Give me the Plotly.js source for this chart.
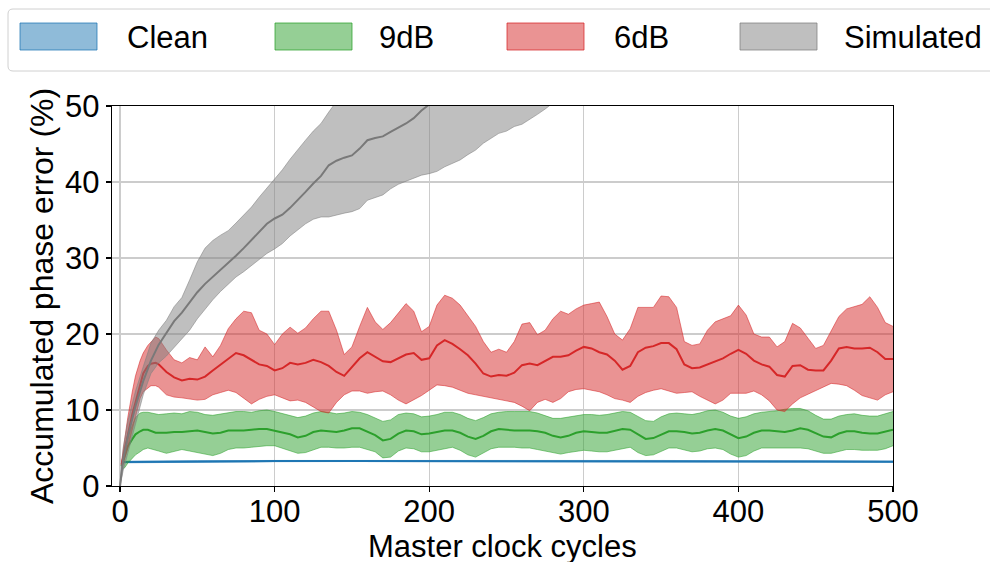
<!DOCTYPE html>
<html>
<head>
<meta charset="utf-8">
<script src="https://cdn.plot.ly/plotly-3.0.1.min.js"></script>
<style>
  html, body { margin: 0; padding: 0; background: #fff; }
  #chart { width: 990px; height: 562px; }
</style>
</head>
<body>
<div id="chart"></div>
<script>
// ---- data: accumulated phase error (%) vs. master clock cycles ----
const seriesNames = ["Clean", "9dB", "6dB", "Simulated"];

// clean reference
const cleanX     = [2, 25, 50, 100, 150, 200, 250, 300, 350, 400, 450, 500];
const cleanMean  = [3.15, 3.2, 3.25, 3.28, 3.3, 3.3, 3.3, 3.3, 3.28, 3.25, 3.22, 3.2];
const cleanUpper = [3.25, 3.3, 3.33, 3.36, 3.38, 3.38, 3.38, 3.38, 3.36, 3.33, 3.3, 3.28];
const cleanLower = [3.05, 3.1, 3.17, 3.2, 3.22, 3.22, 3.22, 3.22, 3.2, 3.17, 3.14, 3.12];

// shared cycle grid for the noisy runs
const noiseX = [1, 3, 5, 8, 10, 13, 15, 18, 20, 23, 25,
  30, 35, 40, 45, 50, 55, 60, 65, 70, 75, 80, 85, 90, 95, 100, 105, 110, 115, 120, 125,
  130, 135, 140, 145, 150, 155, 160, 165, 170, 175, 180, 185, 190, 195, 200, 205, 210, 215, 220, 225,
  230, 235, 240, 245, 250, 255, 260, 265, 270, 275, 280, 285, 290, 295, 300, 305, 310, 315, 320, 325,
  330, 335, 340, 345, 350, 355, 360, 365, 370, 375, 380, 385, 390, 395, 400, 405, 410, 415, 420, 425,
  430, 435, 440, 445, 450, 455, 460, 465, 470, 475, 480, 485, 490, 495, 500];

// 9 dB
const db9Mean = [2.6, 4.0, 5.2, 6.2, 6.8, 7.2, 7.4, 7.4, 7.2, 7.0, 7.0,
  7.0, 7.1, 7.1, 7.2, 7.3, 7.1, 6.9, 7.0, 7.3, 7.3, 7.3, 7.4, 7.5, 7.5, 7.3, 7.1, 6.8, 6.4, 6.6, 7.1,
  7.3, 7.2, 7.1, 7.3, 7.6, 7.6, 7.2, 6.7, 6.0, 6.2, 6.9, 7.3, 7.2, 6.8, 6.9, 7.1, 7.3, 7.3, 7.0, 6.5,
  6.2, 6.6, 7.2, 7.5, 7.4, 7.3, 7.3, 7.3, 7.2, 7.0, 6.6, 6.4, 6.6, 7.0, 7.2, 7.1, 7.0, 7.0, 7.2, 7.5,
  7.4, 6.8, 6.2, 6.3, 6.8, 7.2, 7.2, 7.1, 6.9, 7.0, 7.3, 7.5, 7.3, 6.8, 6.3, 6.5, 7.0, 7.3, 7.3, 7.2,
  7.1, 7.3, 7.6, 7.4, 7.0, 6.5, 6.4, 6.9, 7.2, 7.2, 7.0, 6.9, 6.9, 7.2, 7.4];
const db9Upper = [2.9, 5.0, 6.5, 8.0, 9.0, 9.6, 9.7, 9.7, 9.6, 9.5, 9.4,
  9.5, 9.6, 9.5, 9.8, 9.7, 9.4, 9.3, 9.5, 9.7, 9.8, 9.8, 9.7, 9.9, 10.0, 9.8, 9.5, 9.2, 9.0, 9.2, 9.6,
  9.8, 9.7, 9.5, 9.6, 9.8, 9.7, 9.4, 8.9, 8.5, 8.7, 9.4, 9.6, 9.5, 9.1, 9.2, 9.4, 9.7, 9.7, 9.4, 8.9,
  8.6, 9.0, 9.5, 9.7, 9.8, 9.8, 9.8, 9.8, 9.6, 9.3, 8.9, 8.9, 9.1, 9.3, 9.4, 9.4, 9.3, 9.4, 9.6, 9.8,
  9.7, 9.2, 8.6, 8.5, 9.1, 9.5, 9.6, 9.5, 9.4, 9.6, 9.9, 10.0, 9.7, 9.2, 8.9, 9.1, 9.5, 9.7, 9.8, 9.9,
  10.1, 10.2, 10.2, 9.9, 9.3, 8.8, 8.8, 9.2, 9.4, 9.5, 9.3, 9.2, 9.2, 9.5, 9.8];
const db9Lower = [2.2, 2.4, 3.0, 3.7, 4.1, 4.5, 4.8, 5.0, 4.9, 4.8, 4.6,
  4.3, 4.5, 4.8, 4.6, 4.4, 4.2, 4.0, 4.3, 4.8, 5.0, 5.0, 5.1, 5.2, 5.3, 5.3, 5.0, 4.6, 4.3, 4.4, 4.8,
  5.1, 5.1, 5.0, 5.0, 5.1, 5.1, 4.8, 4.5, 3.7, 3.8, 4.6, 5.0, 4.9, 4.5, 4.5, 4.7, 5.0, 5.1, 4.7, 4.1,
  3.8, 4.3, 4.9, 5.1, 5.1, 5.1, 5.0, 5.0, 4.8, 4.6, 4.4, 4.2, 4.4, 4.6, 4.7, 4.6, 4.5, 4.5, 4.7, 5.0,
  5.1, 4.4, 4.0, 4.1, 4.6, 5.0, 5.0, 4.8, 4.5, 4.6, 4.9, 5.0, 4.8, 4.2, 3.8, 4.0, 4.6, 5.0, 5.0, 5.0,
  5.0, 5.0, 5.0, 4.9, 4.6, 4.3, 4.3, 4.6, 4.8, 4.8, 4.7, 4.7, 4.7, 4.9, 5.3];

// 6 dB
const db6Mean = [2.8, 4.8, 6.5, 9.5, 11.0, 13.5, 14.8, 15.8, 16.1, 16.2, 16.0,
  15.0, 14.3, 13.9, 14.1, 14.0, 14.4, 15.2, 16.0, 16.8, 17.5, 17.2, 16.6, 16.0, 15.8, 15.2, 15.5, 16.2, 16.0, 16.2, 16.6,
  16.3, 15.8, 15.0, 14.5, 15.6, 16.8, 17.6, 17.0, 16.4, 16.3, 16.8, 17.3, 17.5, 16.6, 16.8, 18.5, 19.2, 18.7, 18.0, 17.2,
  16.1, 14.8, 14.4, 14.6, 14.5, 14.9, 15.9, 16.1, 15.9, 16.4, 17.0, 17.0, 17.2, 17.8, 18.3, 18.1, 17.6, 17.3, 16.5, 15.3,
  15.8, 17.6, 18.2, 18.4, 18.8, 18.8, 18.0, 16.0, 15.5, 15.6, 16.0, 16.3, 16.8, 17.4, 17.9, 17.4, 16.5, 16.0, 15.7, 14.6,
  14.4, 15.8, 15.9, 15.3, 15.2, 15.2, 16.5, 18.1, 18.3, 18.1, 18.1, 18.2, 17.6, 16.7, 16.7];
const db6Upper = [3.2, 6.5, 9.0, 12.5, 14.5, 16.5, 17.5, 18.5, 19.0, 19.6, 19.4,
  17.9, 16.6, 16.2, 16.9, 16.6, 18.3, 17.0, 18.5, 20.7, 22.0, 23.0, 22.8, 20.5, 20.0, 18.6, 20.0, 20.9, 20.1, 20.8, 22.0,
  23.0, 23.0, 20.5, 17.3, 18.3, 21.0, 23.5, 21.6, 20.6, 21.5, 22.8, 24.0, 23.0, 20.3, 21.0, 23.8, 25.1, 24.7, 23.8, 22.4,
  21.0, 19.0, 17.6, 18.0, 17.6, 19.0, 21.3, 21.5, 19.9, 20.5, 22.0, 23.0, 22.6, 23.3, 23.8, 24.0, 24.2, 22.3, 20.0, 19.2,
  20.7, 23.5, 23.5, 23.5, 25.0, 24.9, 23.5, 19.0, 18.5, 18.7, 20.5, 21.6, 22.0, 22.4, 23.8, 22.5, 20.0, 19.6, 19.6, 18.3,
  19.0, 21.4, 20.8, 19.5, 18.1, 18.5, 20.5, 22.3, 23.3, 23.6, 23.9, 24.9, 23.5, 21.5, 21.0];
const db6Lower = [2.3, 3.5, 5.0, 7.5, 9.2, 11.5, 12.4, 12.9, 13.2, 13.2, 13.0,
  12.0, 11.7, 11.6, 11.4, 11.3, 11.4, 12.0, 12.3, 12.6, 12.3, 11.6, 10.8, 11.4, 11.8, 12.0, 11.6, 11.2, 11.3, 11.0, 10.4,
  9.8, 9.6, 11.0, 12.0, 12.5, 12.5, 12.2, 12.4, 12.5, 12.0, 11.3, 10.8, 11.3, 11.9, 12.6, 13.3, 13.2, 13.0, 12.6, 12.2,
  12.0, 11.8, 11.6, 11.4, 11.3, 11.0, 10.5, 9.9, 11.0, 11.4, 11.0, 11.5, 12.4, 12.7, 12.8, 12.6, 12.4, 12.0, 11.5, 11.3,
  11.0, 11.8, 12.3, 12.6, 12.8, 12.5, 12.2, 12.3, 12.4, 11.8, 11.3, 10.8, 11.3, 12.2, 12.2, 12.2, 12.5, 12.0, 11.2, 10.0,
  9.8, 10.8, 11.6, 12.1, 12.5, 13.1, 13.5, 13.4, 13.2, 12.6, 11.9, 11.6, 11.3, 12.0, 12.4];

// simulated channel
const simX = [0, 2, 5, 10, 15, 20, 25, 30, 35, 40, 45, 50, 55, 60, 65, 70, 75, 80, 85, 90, 95, 100,
  105, 110, 115, 120, 125, 130, 135, 140, 145, 150, 155, 160, 165, 170, 175, 180, 185, 190, 195, 200,
  205, 210, 215, 220, 225, 230, 235, 240, 245, 250, 255, 260, 265, 270, 275, 280, 285, 290, 295, 300];
const simMean = [0, 3.5, 6.5, 10.5, 13.8, 16.5, 18.6, 20.2, 21.7, 22.8, 24.2, 25.5, 26.6, 27.5, 28.4, 29.3, 30.3, 31.3, 32.4, 33.5, 34.5, 35.2,
  35.7, 36.6, 37.6, 38.7, 39.8, 40.8, 42.2, 42.8, 43.2, 43.5, 44.4, 45.5, 45.8, 46.0, 46.6, 47.1, 47.7, 48.4, 49.4, 50.2,
  50.9, 51.6, 52.2, 52.9, 53.5, 54.1, 54.8, 55.4, 56.0, 56.6, 57.2, 57.9, 58.4, 59.0, 59.6, 60.2, 60.8, 61.4, 62.0, 62.6];
const simUpper = [0, 5.0, 8.5, 12.5, 15.7, 18.8, 20.5, 21.8, 23.6, 24.8, 27.1, 29.5, 31.3, 32.3, 33.0, 33.6, 34.6, 35.6, 36.7, 38.0, 39.2, 40.3,
  41.6, 43.0, 44.3, 45.5, 46.7, 47.7, 49.2, 50.6, 51.5, 52.6, 53.7, 54.8, 55.8, 56.8, 57.8, 58.7, 59.6, 60.5, 61.5, 62.4,
  63.3, 64.2, 65.1, 66.0, 66.9, 67.8, 68.7, 69.6, 70.5, 71.4, 72.3, 73.2, 74.1, 75.0, 75.9, 76.8, 77.7, 78.6, 79.5, 80.4];
const simLower = [0, 2.0, 4.3, 8.2, 12.0, 14.8, 16.2, 17.1, 18.2, 19.3, 20.5, 22.0, 23.3, 24.5, 25.6, 26.6, 27.5, 28.2, 29.0, 29.8, 30.6, 31.2,
  31.9, 32.9, 33.7, 34.5, 35.1, 35.4, 35.4, 35.7, 35.9, 36.1, 36.5, 37.6, 37.9, 38.3, 39.1, 39.7, 40.1, 40.5, 40.9, 41.1,
  41.4, 42.0, 42.4, 42.9, 43.6, 44.2, 45.1, 45.7, 46.4, 46.7, 47.3, 47.6, 48.2, 48.9, 49.6, 50.4, 51.0, 51.6, 52.1, 52.6];

const xTicks = [0, 100, 200, 300, 400, 500];
const yTicks = [0, 10, 20, 30, 40, 50];

// ---- styling ----
const palette = {
  "Clean":     [31, 119, 180],
  "9dB":       [44, 160, 44],
  "6dB":       [214, 39, 40],
  "Simulated": [127, 127, 127]
};
const rgba = (c, a) => `rgba(${c[0]},${c[1]},${c[2]},${a})`;
const FONT = '"Liberation Sans", Arial, sans-serif';

// mean line first, then the shaded spread band on top (band is half-transparent)
function group(name, x, mean, lo, hi, lineColor) {
  const c = palette[name];
  return [
    { x: x, y: mean, mode: 'lines', name: name, showlegend: false, hoverinfo: 'skip',
      line: { color: lineColor || rgba(c, 1), width: 2 } },
    { x: x, y: lo, mode: 'lines', showlegend: false, hoverinfo: 'skip',
      line: { color: rgba(c, 0.55), width: 1 } },
    { x: x, y: hi, mode: 'lines', fill: 'tonexty', fillcolor: rgba(c, 0.5),
      showlegend: false, hoverinfo: 'skip',
      line: { color: rgba(c, 0.55), width: 1 } }
  ];
}

const traces = [].concat(
  group("Clean", cleanX, cleanMean, cleanLower, cleanUpper),
  group("9dB", noiseX, db9Mean, db9Lower, db9Upper),
  group("6dB", noiseX, db6Mean, db6Lower, db6Upper),
  group("Simulated", simX, simMean, simLower, simUpper, 'rgb(115,115,115)')
);

// ---- legend strip above the plot, built in pixel terms ----
const M = { l: 112, r: 97, t: 106, b: 76 };
const W = 990, H = 562;
const PW = W - M.l - M.r, PH = H - M.t - M.b;
const fx = px => (px - M.l) / PW;
const fy = py => (H - M.b - py) / PH;

function roundRect(x0, y0, x1, y1, r) {
  const rx = r / PW, ry = r / PH;
  const X0 = fx(x0), X1 = fx(x1), Y0 = fy(y0), Y1 = fy(y1); // Y0 top, Y1 bottom
  return `M${X0 + rx},${Y0} L${X1 - rx},${Y0} Q${X1},${Y0} ${X1},${Y0 - ry} ` +
         `L${X1},${Y1 + ry} Q${X1},${Y1} ${X1 - rx},${Y1} L${X0 + rx},${Y1} ` +
         `Q${X0},${Y1} ${X0},${Y1 + ry} L${X0},${Y0 - ry} Q${X0},${Y0} ${X0 + rx},${Y0} Z`;
}

const legendSwatchX = [20, 275, 507, 740];
const legendTextX = [125, 377, 612, 842];
const shapes = [{
  type: 'path', xref: 'paper', yref: 'paper', layer: 'above',
  path: roundRect(8, 9, 1005, 71, 5),
  fillcolor: 'rgba(255,255,255,0.8)', line: { color: '#d0d0d0', width: 1 }
}];
const annotations = [];
seriesNames.forEach((n, i) => {
  const c = palette[n];
  shapes.push({
    type: 'rect', xref: 'paper', yref: 'paper', layer: 'above',
    x0: fx(legendSwatchX[i]), x1: fx(legendSwatchX[i] + 77),
    y0: fy(50), y1: fy(23),
    fillcolor: rgba(c, 0.5), line: { color: rgba(c, 0.75), width: 1 }
  });
  annotations.push({
    xref: 'paper', yref: 'paper', x: fx(legendTextX[i]), y: fy(37),
    xanchor: 'left', yanchor: 'middle', showarrow: false, text: n,
    font: { family: FONT, size: 31, color: '#000' }
  });
});

// axis titles placed as text in pixel terms
annotations.push({
  xref: 'paper', yref: 'paper', x: fx(502), y: fy(546),
  xanchor: 'center', yanchor: 'middle', showarrow: false,
  text: 'Master clock cycles', font: { family: FONT, size: 31, color: '#000' }
});
annotations.push({
  xref: 'paper', yref: 'paper', x: fx(42), y: fy(296),
  xanchor: 'center', yanchor: 'middle', showarrow: false, textangle: -90,
  text: 'Accumulated phase error (%)', font: { family: FONT, size: 32, color: '#000' }
});

const axisCommon = {
  showline: true, mirror: true, linecolor: '#000', linewidth: 1.2,
  ticks: 'outside', ticklen: 5, tickwidth: 1.2, tickcolor: '#000',
  showgrid: true, gridcolor: '#cccccc', gridwidth: 1.3, zeroline: false,
  tickfont: { family: FONT, size: 31, color: '#000' }
};

const layout = {
  width: W, height: H,
  margin: { l: M.l, r: M.r, t: M.t, b: M.b, pad: 0 },
  paper_bgcolor: '#fff', plot_bgcolor: '#fff',
  showlegend: false,
  font: { family: FONT, color: '#000' },
  xaxis: Object.assign({}, axisCommon, {
    range: [-5.2, 500], tickvals: xTicks, ticktext: xTicks.map(String),
    ticklabelstandoff: -7, automargin: false
  }),
  yaxis: Object.assign({}, axisCommon, {
    range: [0, 50], tickvals: yTicks, ticktext: yTicks.map(String),
    automargin: false
  }),
  shapes: shapes,
  annotations: annotations
};

Plotly.newPlot('chart', traces, layout, { displayModeBar: false, staticPlot: true });
</script>
</body>
</html>
